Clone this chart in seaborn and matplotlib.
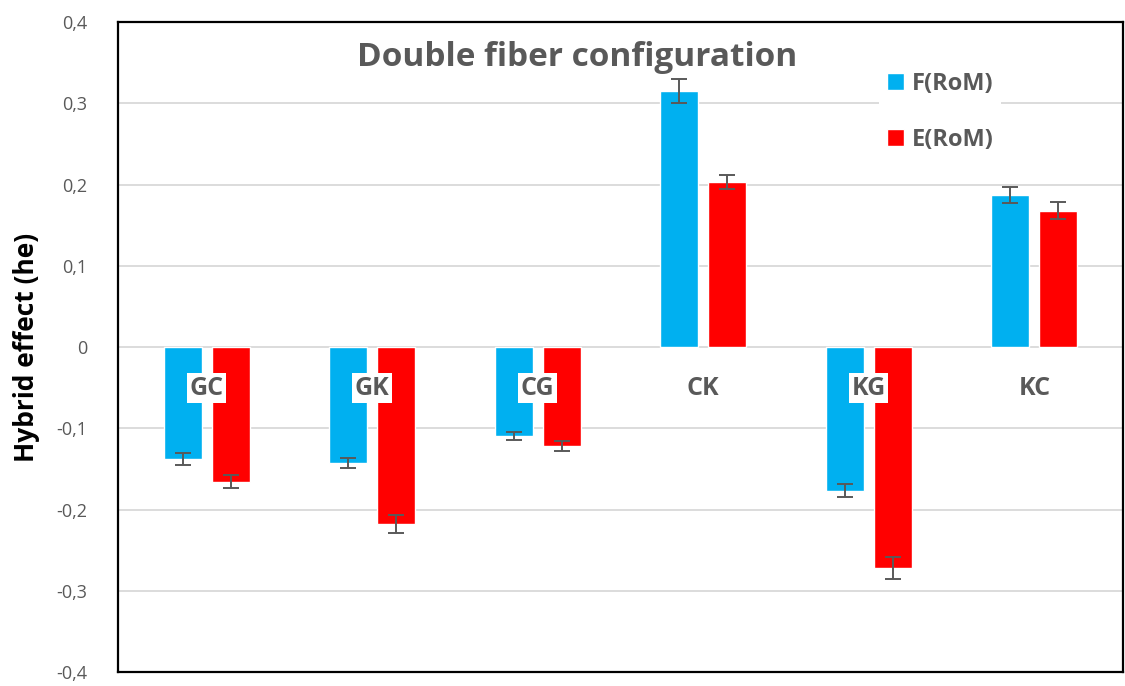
import matplotlib
matplotlib.use("Agg")
import matplotlib.pyplot as plt
import numpy as np
import pandas as pd
import seaborn as sns

# Hybrid effect per fiber pairing, two rule-of-mixtures references
categories = ["GC", "GK", "CG", "CK", "KG", "KC"]
series_names = ["F(RoM)", "E(RoM)"]
f_rom = [-0.138, -0.143, -0.110, 0.315, -0.177, 0.187]
e_rom = [-0.166, -0.218, -0.122, 0.203, -0.272, 0.168]
f_err = [0.007, 0.006, 0.005, 0.015, 0.008, 0.010]
e_err = [0.008, 0.011, 0.006, 0.009, 0.013, 0.010]
y_ticks = [-0.4, -0.3, -0.2, -0.1, 0.0, 0.1, 0.2, 0.3, 0.4]

colors = ["#00B0F0", "#FF0000"]
grey = "#595959"

df = pd.DataFrame({
    "config": categories * 2,
    "series": [series_names[0]] * len(categories) + [series_names[1]] * len(categories),
    "he": f_rom + e_rom,
    "err": f_err + e_err,
})

sns.set_theme(style="white")
plt.rcParams["font.family"] = ["Open Sans", "DejaVu Sans"]

fig = plt.figure(figsize=(11.25, 6.86), dpi=100)
ax = fig.add_axes([0.1049, 0.0204, 0.8933, 0.9475])

sns.barplot(
    data=df, x="config", y="he", hue="series",
    order=categories, hue_order=series_names,
    palette=colors, saturation=1, width=0.58, gap=0.21,
    errorbar=None, ax=ax, zorder=2,
)

# error bars centred on each drawn bar
for container, name in zip(ax.containers, series_names):
    sub = df[df["series"] == name].set_index("config").loc[categories]
    xs = [b.get_x() + b.get_width() / 2 for b in container]
    ax.errorbar(xs, sub["he"].values, yerr=sub["err"].values, fmt="none",
                ecolor=grey, elinewidth=1.4, capsize=6, capthick=1.4, zorder=3)

# category labels sitting just below the zero line
for i, cat in enumerate(categories):
    ax.text(i, -0.051, cat, ha="center", va="center", fontsize=18,
            fontweight="bold", color=grey, zorder=5,
            bbox=dict(boxstyle="square,pad=0.1", fc="white", ec="none"))

ax.set_ylim(-0.4, 0.4)
ax.set_yticks(y_ticks)
ax.set_yticklabels(["0" if v == 0 else f"{v:.1f}".replace(".", ",") for v in y_ticks],
                   color=grey, fontsize=13)
ax.tick_params(axis="y", length=0, pad=22)
ax.set_xticks([])
ax.set_xlabel("")
ax.set_axisbelow(True)
ax.yaxis.grid(True, color="#D9D9D9", linewidth=1.3)

for s in ax.spines.values():
    s.set_visible(True)
    s.set_color("black")
    s.set_linewidth(1.6)

ax.set_ylabel("Hybrid effect (he)", fontsize=19, fontweight="bold", color="black")
ax.yaxis.set_label_coords(-0.0776, 0.5)

ax.text(0.4567, 0.945, "Double fiber configuration", transform=ax.transAxes,
        ha="center", va="center", fontsize=24, fontweight="bold", color=grey)

leg = ax.legend(loc="center", bbox_to_anchor=(0.818, 0.862), frameon=True,
                facecolor="white", edgecolor="none", framealpha=1, fancybox=False,
                prop={"size": 17, "weight": "bold"}, handlelength=0.72,
                handleheight=0.72, handletextpad=0.35, labelspacing=1.35,
                borderpad=0.3, title=None)
for t in leg.get_texts():
    t.set_color(grey)

fig.savefig("out.png", dpi=100)
